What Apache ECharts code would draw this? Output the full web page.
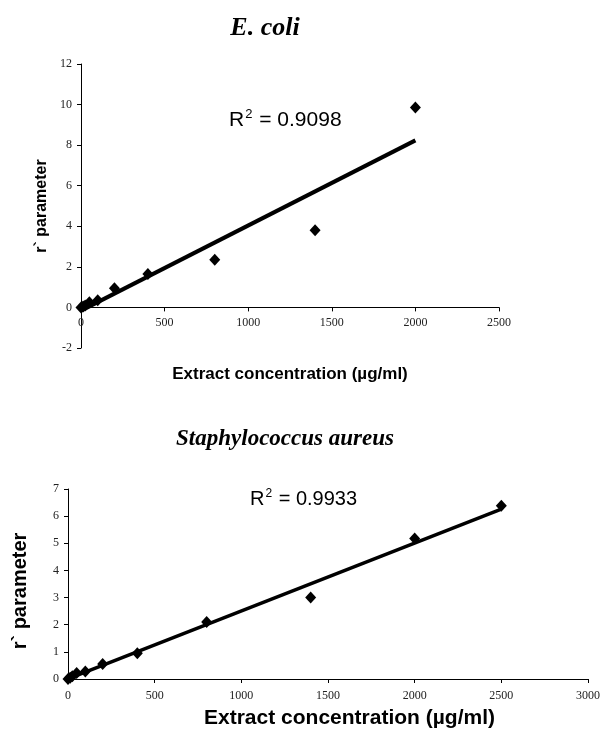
<!DOCTYPE html>
<html>
<head>
<meta charset="utf-8">
<script src="https://cdn.jsdelivr.net/npm/echarts@6/dist/echarts.min.js"></script>
<style>
  html, body { margin: 0; padding: 0; background: #fff; }
  #main { width: 603px; height: 737px; }
</style>
</head>
<body>
<div id="main"></div>
<script>
// concentrations (µg/ml)
var ecoliX = [0, 12.5, 25, 50, 100, 200, 400, 800, 1400, 2000];
var ecoliY = [0, 0.05, 0.1, 0.25, 0.35, 0.95, 1.65, 2.35, 3.8, 9.85];
var staphX = [0, 12.5, 25, 50, 100, 200, 400, 800, 1400, 2000, 2500];
var staphY = [0, 0.05, 0.1, 0.22, 0.28, 0.55, 0.95, 2.1, 3.0, 5.18, 6.38];
var ecoliR2 = '0.9098';
var staphR2 = '0.9933';

// linear least squares, like the excel trendline
function fit(xs, ys) {
  var n = xs.length, sx = 0, sy = 0, sxx = 0, sxy = 0;
  for (var i = 0; i < n; i++) {
    sx += xs[i]; sy += ys[i];
    sxx += xs[i] * xs[i]; sxy += xs[i] * ys[i];
  }
  var b = (n * sxy - sx * sy) / (n * sxx - sx * sx);
  var a = (sy - b * sx) / n;
  var x0 = Math.min.apply(null, xs), x1 = Math.max.apply(null, xs);
  return [[x0, a + b * x0], [x1, a + b * x1]];
}
function pairs(xs, ys) {
  return xs.map(function (x, i) { return [x, ys[i]]; });
}

var serif = '"Liberation Serif", "Times New Roman", serif';
var sans = '"Liberation Sans", Arial, sans-serif';
function plain(v) { return String(v); }
function tickLabel(size, margin) {
  return { color: '#222', fontFamily: serif, fontSize: size, margin: margin, formatter: plain };
}
var axisCommon = {
  axisLine: { onZero: false, lineStyle: { color: '#000', width: 1 } },
  axisTick: { show: true, length: 4, lineStyle: { color: '#000' } },
  splitLine: { show: false }
};
function r2Text(val) { return '{a|R}{b|2}{a| = ' + val + '}'; }
function r2Rich(size) {
  return {
    a: { fontFamily: sans, fontSize: size, fontWeight: 'normal', color: '#000' },
    b: { fontFamily: sans, fontSize: Math.round(size * 0.62), fontWeight: 'normal', color: '#000',
         padding: [0, 1, Math.round(size * 0.5), 1] }
  };
}

var chart = echarts.init(document.getElementById('main'));
chart.setOption({
  animation: false,
  backgroundColor: '#fff',
  title: [
    { text: 'E. coli', left: 260, top: 10, textAlign: 'center',
      textStyle: { fontFamily: serif, fontStyle: 'italic', fontWeight: 'bold', fontSize: 26, color: '#000' } },
    { text: 'Staphylococcus aureus', left: 280, top: 423, textAlign: 'center',
      textStyle: { fontFamily: serif, fontStyle: 'italic', fontWeight: 'bold', fontSize: 23, color: '#000' } },
    { text: r2Text(ecoliR2), left: 224, top: 103, textStyle: { rich: r2Rich(21) } },
    { text: r2Text(staphR2), left: 245, top: 483, textStyle: { rich: r2Rich(20) } }
  ],
  grid: [
    { left: 81, top: 64, width: 418, height: 284 },
    { left: 68, top: 489, width: 529, height: 190 }
  ],
  xAxis: [
    Object.assign({}, axisCommon, {
      gridIndex: 0, type: 'value', min: 0, max: 2500, interval: 500,
      offset: -40.6, // sits on y = 0 of the top chart
      axisLabel: tickLabel(12, 9),
      name: 'Extract concentration (µg/ml)', nameLocation: 'middle', nameGap: 58,
      nameTextStyle: { fontFamily: sans, fontWeight: 'bold', fontSize: 17, color: '#000' }
    }),
    Object.assign({}, axisCommon, {
      gridIndex: 1, type: 'value', min: 0, max: 3000, interval: 500,
      axisLabel: tickLabel(12, 11),
      name: 'Extract concentration (µg/ml)', nameLocation: 'middle', nameGap: 29,
      nameTextStyle: { fontFamily: sans, fontWeight: 'bold', fontSize: 21, color: '#000',
        padding: [0, 0, 0, 43] }
    })
  ],
  yAxis: [
    Object.assign({}, axisCommon, {
      gridIndex: 0, type: 'value', min: -2, max: 12, interval: 2,
      axisLabel: tickLabel(12, 9),
      name: 'r` parameter', nameLocation: 'middle', nameGap: 30, nameRotate: 90,
      nameTextStyle: { fontFamily: sans, fontWeight: 'bold', fontSize: 16, color: '#000' }
    }),
    Object.assign({}, axisCommon, {
      gridIndex: 1, type: 'value', min: 0, max: 7, interval: 1,
      axisLabel: tickLabel(12, 9),
      name: 'r` parameter', nameLocation: 'middle', nameGap: 38, nameRotate: 90,
      nameTextStyle: { fontFamily: sans, fontWeight: 'bold', fontSize: 20, color: '#000',
        padding: [0, 14, 0, 0] }
    })
  ],
  series: [
    { type: 'line', xAxisIndex: 0, yAxisIndex: 0, data: fit(ecoliX, ecoliY),
      symbol: 'none', lineStyle: { color: '#000', width: 4 }, z: 2 },
    { type: 'scatter', xAxisIndex: 0, yAxisIndex: 0, data: pairs(ecoliX, ecoliY),
      symbol: 'diamond', symbolSize: [11, 12], itemStyle: { color: '#000', opacity: 1 }, z: 3 },
    { type: 'line', xAxisIndex: 1, yAxisIndex: 1, data: fit(staphX, staphY),
      symbol: 'none', lineStyle: { color: '#000', width: 3.5 }, z: 2 },
    { type: 'scatter', xAxisIndex: 1, yAxisIndex: 1, data: pairs(staphX, staphY),
      symbol: 'diamond', symbolSize: [11, 12], itemStyle: { color: '#000', opacity: 1 }, z: 3 }
  ]
});
</script>
</body>
</html>
